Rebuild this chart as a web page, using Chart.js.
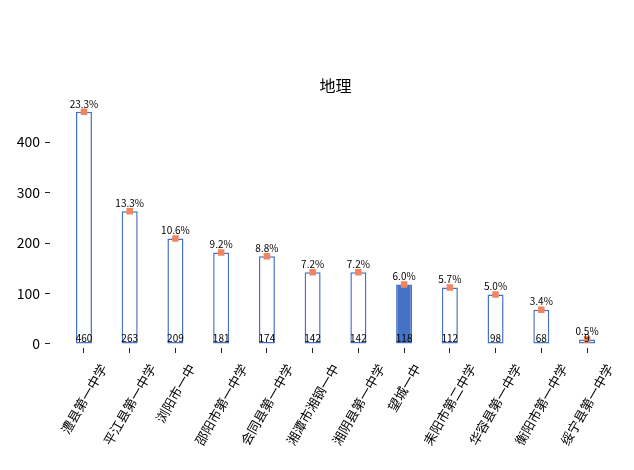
<!DOCTYPE html>
<html>
<head>
<meta charset="utf-8">
<script src="https://cdn.jsdelivr.net/npm/chart.js@4"></script>
<style>
  body { margin: 0; background: #fff; }
  #wrap { width: 634px; height: 470px; }
</style>
</head>
<body>
<div id="wrap"><canvas id="geoChart"></canvas></div>
<script>
const schools = ['澧县第一中学', '平江县第一中学', '浏阳市一中', '邵阳市第一中学', '会同县第一中学', '湘潭市湘钢一中',
    '湘阴县第一中学', '望城一中', '耒阳市第二中学', '华容县第一中学', '衡阳市第一中学', '绥宁县第一中学'];
const counts = [460, 263, 209, 181, 174, 142, 142, 118, 112, 98, 68, 9];
const percents = ['23.3%', '13.3%', '10.6%', '9.2%', '8.8%', '7.2%', '7.2%', '6.0%', '5.7%', '5.0%', '3.4%', '0.5%'];
const highlight = '望城一中';
const yTicks = [0, 100, 200, 300, 400];

const FONT = '"Noto Sans CJK SC", "Noto Sans", sans-serif';
const BLUE = '#4472C4';
const ORANGE = '#F08560';

const points = counts.map((v, i) => ({ x: i, y: v }));

// labels on bars + rotated school names
const labelPlugin = {
    id: 'barLabels',
    afterDraw(chart) {
        const ctx = chart.ctx;
        const bars = chart.getDatasetMeta(1).data;
        const yScale = chart.scales.y;
        const xScale = chart.scales.x;
        const base = yScale.getPixelForValue(0);
        ctx.save();
        ctx.fillStyle = '#000';
        ctx.textAlign = 'center';
        ctx.font = '10px ' + FONT;
        bars.forEach((bar, i) => {
            ctx.textBaseline = 'bottom';
            ctx.fillText(percents[i], bar.x, bar.y - 3);
            ctx.textBaseline = 'alphabetic';
            ctx.fillText(String(counts[i]), bar.x, base - 2);
        });

        ctx.font = '13px ' + FONT;
        ctx.textBaseline = 'middle';
        const a = Math.PI / 3;
        schools.forEach((name, i) => {
            const x = xScale.getPixelForValue(i);
            const w = ctx.measureText(name).width;
            const halfH = (w * Math.sin(a) + 13 * Math.cos(a)) / 2;
            ctx.save();
            ctx.translate(x, chart.chartArea.bottom + 14 + halfH);
            ctx.rotate(-a);
            ctx.fillText(name, 0, 0);
            ctx.restore();
        });
        ctx.restore();
    }
};

new Chart(document.getElementById('geoChart'), {
    type: 'bar',
    data: {
        datasets: [{
            type: 'line',
            data: points,
            showLine: false,
            pointStyle: 'rect',
            pointRadius: 4.6,
            pointBackgroundColor: ORANGE,
            pointBorderColor: ORANGE,
            pointBorderWidth: 0,
            order: 1
        }, {
            data: points,
            backgroundColor: schools.map(s => s === highlight ? BLUE : '#ffffff'),
            borderColor: BLUE,
            borderWidth: 1.5,
            borderSkipped: false,
            categoryPercentage: 1,
            barPercentage: 0.35,
            order: 2
        }]
    },
    options: {
        responsive: true,
        maintainAspectRatio: false,
        animation: false,
        layout: { padding: { left: 0, right: 13, top: 0, bottom: 0 } },
        plugins: {
            legend: { display: false },
            tooltip: { enabled: false },
            title: {
                display: true,
                text: '地理',
                fullSize: false,
                color: '#000',
                font: { family: FONT, size: 16, weight: 'normal' },
                padding: { top: 76, bottom: 5 }
            }
        },
        scales: {
            x: {
                type: 'linear',
                min: -0.7425,
                max: 11.7425,
                offset: false,
                afterBuildTicks: s => { s.ticks = schools.map((_, i) => ({ value: i })); },
                afterFit: s => { s.height = 122; },
                ticks: { display: false },
                grid: { offset: false, drawOnChartArea: false, tickLength: 5, color: '#222' },
                border: { display: false }
            },
            y: {
                min: -8,
                max: 483,
                afterBuildTicks: s => { s.ticks = yTicks.map(v => ({ value: v })); },
                afterFit: s => { s.width = 50; },
                ticks: { color: '#000', padding: 5, font: { family: FONT, size: 14 } },
                grid: { drawOnChartArea: false, tickLength: 5, color: '#222' },
                border: { display: false }
            }
        }
    },
    plugins: [labelPlugin]
});
</script>
</body>
</html>
